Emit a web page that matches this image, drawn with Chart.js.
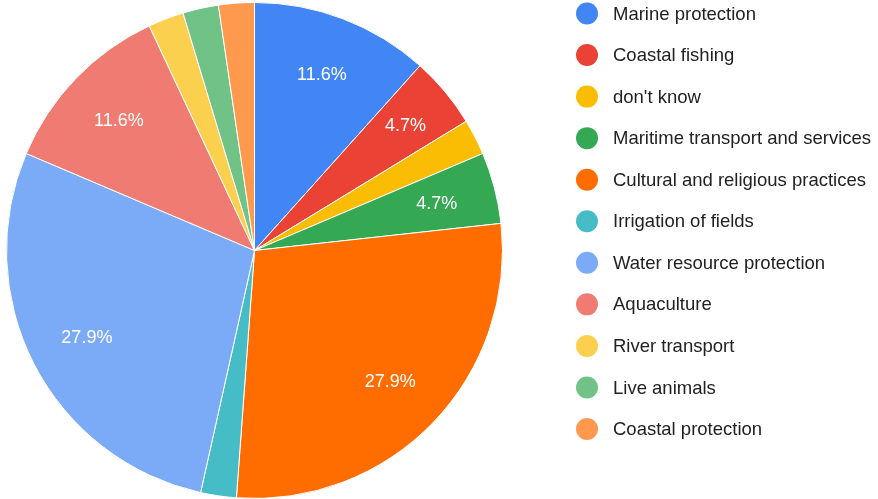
<!DOCTYPE html>
<html>
<head>
<meta charset="utf-8">
<script src="https://cdn.jsdelivr.net/npm/chart.js@4"></script>
<style>
  html, body { margin: 0; padding: 0; background: #ffffff; }
  #wrap { width: 878px; height: 499px; position: relative; }
</style>
</head>
<body>
<div id="wrap"><canvas id="pie"></canvas></div>
<script>
// Responses per category (43 in total)
const categories = [
  'Marine protection',
  'Coastal fishing',
  "don't know",
  'Maritime transport and services',
  'Cultural and religious practices',
  'Irrigation of fields',
  'Water resource protection',
  'Aquaculture',
  'River transport',
  'Live animals',
  'Coastal protection'
];
const counts = [5, 2, 1, 2, 12, 1, 12, 5, 1, 1, 1];
const colors = [
  '#4285F4', '#EA4335', '#FBBC04', '#34A853', '#FF6D01', '#46BDC6',
  '#7BAAF7', '#F07B72', '#FCD04F', '#71C287', '#FF994D'
];

const total = counts.reduce((a, b) => a + b, 0);
const FONT = '"Liberation Sans", Arial, sans-serif';

// Normalise an angle into [base, base + 2π)
function normAngle(a, base) {
  const t = Math.PI * 2;
  while (a < base) a += t;
  while (a >= base + t) a -= t;
  return a;
}

// Does a w×h box centred at (cx, cy) sit fully inside the wedge?
function boxInWedge(cx, cy, w, h, p) {
  const pts = [[-w / 2, -h / 2], [w / 2, -h / 2], [w / 2, h / 2], [-w / 2, h / 2]];
  return pts.every(([dx, dy]) => {
    const x = cx + dx - p.x, y = cy + dy - p.y;
    const d = Math.hypot(x, y);
    if (d > p.outerRadius - 2) return false;
    const a = normAngle(Math.atan2(y, x), p.startAngle);
    return a <= p.endAngle;
  });
}

// Percentage labels inside slices (small slices are left blank)
const sliceLabels = {
  id: 'sliceLabels',
  afterDatasetsDraw(chart) {
    const ctx = chart.ctx;
    const meta = chart.getDatasetMeta(0);
    ctx.save();
    ctx.fillStyle = '#ffffff';
    ctx.font = '18px ' + FONT;
    ctx.textAlign = 'center';
    ctx.textBaseline = 'middle';
    meta.data.forEach((arc, i) => {
      const pct = counts[i] / total * 100;
      if (pct < 4) return;
      const text = pct.toFixed(1) + '%';
      const w = ctx.measureText(text).width + 14;
      const h = 24;
      const p = arc.getProps(['x', 'y', 'startAngle', 'endAngle', 'outerRadius'], true);
      const mid = (p.startAngle + p.endAngle) / 2;
      let r = p.outerRadius * 0.76;
      while (r < p.outerRadius * 0.9 &&
             !boxInWedge(p.x + Math.cos(mid) * r, p.y + Math.sin(mid) * r, w, h, p)) {
        r += 1;
      }
      ctx.fillText(text, p.x + Math.cos(mid) * r, p.y + Math.sin(mid) * r + 1);
    });
    ctx.restore();
  }
};

// Legend column to the right of the pie
const sideLegend = {
  id: 'sideLegend',
  afterDraw(chart) {
    const ctx = chart.ctx;
    const x0 = 587, y0 = 13.5, step = 41.55;
    ctx.save();
    ctx.font = '18.5px ' + FONT;
    ctx.textBaseline = 'middle';
    ctx.textAlign = 'left';
    categories.forEach((name, i) => {
      const y = y0 + i * step;
      ctx.beginPath();
      ctx.arc(x0, y, 11, 0, Math.PI * 2);
      ctx.fillStyle = colors[i];
      ctx.fill();
      ctx.fillStyle = '#222222';
      ctx.fillText(name, 613, y + 1);
    });
    ctx.restore();
  }
};

new Chart(document.getElementById('pie'), {
  type: 'pie',
  data: {
    labels: categories,
    datasets: [{
      data: counts,
      backgroundColor: colors,
      borderColor: '#ffffff',
      borderWidth: 1
    }]
  },
  options: {
    responsive: true,
    maintainAspectRatio: false,
    animation: false,
    layout: { padding: { left: 6, right: 375, top: 2, bottom: 0 } },
    plugins: {
      legend: { display: false },
      tooltip: { enabled: false }
    }
  },
  plugins: [sliceLabels, sideLegend]
});
</script>
</body>
</html>
